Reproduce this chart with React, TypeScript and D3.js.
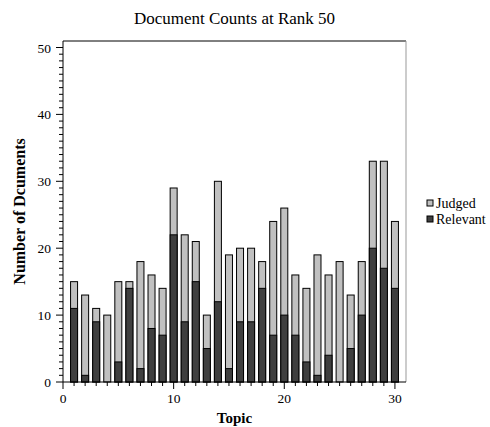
import * as d3 from "d3";

const topics = d3.range(1, 31);
const judged = [15, 13, 11, 10, 15, 15, 18, 16, 14, 29, 22, 21, 10, 30, 19, 20, 20, 18, 24, 26, 16, 14, 19, 16, 18, 13, 18, 33, 33, 24];
const relevant = [11, 1, 9, 0, 3, 14, 2, 8, 7, 22, 9, 15, 5, 12, 2, 9, 9, 14, 7, 10, 7, 3, 1, 4, 0, 5, 10, 20, 17, 14];
const xTicks = [0, 10, 20, 30];
const yTicks = [0, 10, 20, 30, 40, 50];
const legendItems = [
  { label: "Judged", color: "#c0c0c0" },
  { label: "Relevant", color: "#3f3f3f" },
];

export default function App() {
  const W = 490,
    H = 427;
  const m = { left: 63, right: 406, top: 41, bottom: 382 };

  const x = d3.scaleLinear().domain([0, 31]).range([m.left, m.right]);
  const y = d3.scaleLinear().domain([0, 50]).range([m.bottom, 47.5]);
  const bw = 7;
  const cx = (m.left + m.right) / 2;
  const font = "'Liberation Serif', 'Times New Roman', serif";

  return (
    <svg
      width={W}
      height={H}
      style={{ position: "absolute", left: 0, top: 0 }}
      fontFamily={font}
    >
      <rect width={W} height={H} fill="#fff" />
      <text x={cx} y={24} textAnchor="middle" fontSize={17}>
        Document Counts at Rank 50
      </text>

      {/* frame */}
      <line x1={m.left} x2={m.right} y1={m.top} y2={m.top} stroke="#000" />
      <line x1={m.right} x2={m.right} y1={m.top} y2={m.bottom} stroke="#999" />

      {/* bars */}
      {topics.map((t, i) => (
        <g key={t}>
          <rect
            x={x(t) - bw / 2}
            y={y(judged[i])}
            width={bw}
            height={y(0) - y(judged[i])}
            fill={legendItems[0].color}
            stroke="#000"
            strokeWidth={1}
          />
          {relevant[i] > 0 && (
            <rect
              x={x(t) - bw / 2}
              y={y(relevant[i])}
              width={bw}
              height={y(0) - y(relevant[i])}
              fill={legendItems[1].color}
              stroke="#000"
              strokeWidth={1}
            />
          )}
        </g>
      ))}

      {/* y axis */}
      <line x1={m.left} x2={m.left} y1={m.top} y2={m.bottom} stroke="#000" />
      {d3.range(0, 51).map((v) => (
        <line
          key={v}
          x1={m.left}
          x2={m.left - (v % 10 === 0 ? 7 : 4)}
          y1={y(v)}
          y2={y(v)}
          stroke="#000"
        />
      ))}
      {yTicks.map((v) => (
        <text key={v} x={m.left - 12} y={y(v) + 5} textAnchor="end" fontSize={13.5}>
          {v}
        </text>
      ))}

      {/* x axis */}
      <line x1={m.left} x2={m.right} y1={m.bottom} y2={m.bottom} stroke="#000" />
      {d3.range(0, 31).map((v) => (
        <line
          key={v}
          x1={x(v)}
          x2={x(v)}
          y1={m.bottom}
          y2={m.bottom + (v % 10 === 0 ? 7 : 4)}
          stroke="#000"
        />
      ))}
      {xTicks.map((v) => (
        <text key={v} x={x(v)} y={m.bottom + 21} textAnchor="middle" fontSize={13.5}>
          {v}
        </text>
      ))}

      <text x={cx} y={423} textAnchor="middle" fontSize={15} fontWeight="bold">
        Topic
      </text>
      <text
        transform={`translate(25,${(m.top + m.bottom) / 2}) rotate(-90)`}
        textAnchor="middle"
        fontSize={16}
        fontWeight="bold"
      >
        Number of Dcuments
      </text>

      {/* legend */}
      {legendItems.map((d, i) => (
        <g key={d.label} transform={`translate(427,${203 + i * 16})`}>
          <rect x={0} y={-3} width={6} height={6} fill={d.color} stroke="#000" />
          <text x={9} y={5} fontSize={14}>
            {d.label}
          </text>
        </g>
      ))}
    </svg>
  );
}
